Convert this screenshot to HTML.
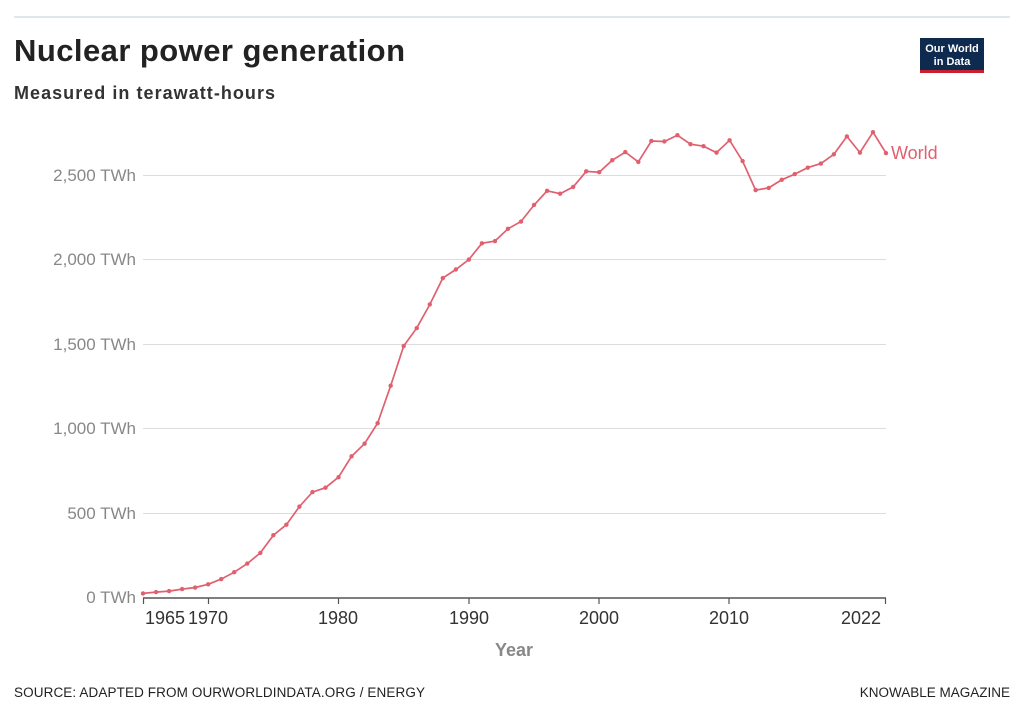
<!DOCTYPE html>
<html><head><meta charset="utf-8"><style>
body{margin:0;background:#fff;font-family:"Liberation Sans",sans-serif;}
</style></head><body>
<svg width="1024" height="714" xmlns="http://www.w3.org/2000/svg" font-family="Liberation Sans, sans-serif">
<rect width="1024" height="714" fill="#fff"/>
<rect x="14" y="16" width="996" height="2" fill="#dde8ea"/>
<text x="14" y="61" font-size="31" font-weight="bold" fill="#222" textLength="391">Nuclear power generation</text>
<text x="14" y="99" font-size="18" font-weight="bold" fill="#333" textLength="261">Measured in terawatt-hours</text>
<rect x="920" y="38" width="64" height="32" fill="#0f2a4f"/>
<rect x="920" y="70" width="64" height="3" fill="#c8202e"/>
<text x="952" y="52" font-size="11" font-weight="bold" fill="#fff" text-anchor="middle">Our World</text>
<text x="952" y="65" font-size="11" font-weight="bold" fill="#fff" text-anchor="middle">in Data</text>
<g stroke="#ddd" stroke-width="1">
<line x1="143" x2="886" y1="175.5" y2="175.5"/>
<line x1="143" x2="886" y1="259.5" y2="259.5"/>
<line x1="143" x2="886" y1="344.5" y2="344.5"/>
<line x1="143" x2="886" y1="428.5" y2="428.5"/>
<line x1="143" x2="886" y1="513.5" y2="513.5"/>
</g>
<g font-size="17" fill="#888" text-anchor="end">
<text x="136" y="181">2,500 TWh</text>
<text x="136" y="265">2,000 TWh</text>
<text x="136" y="350">1,500 TWh</text>
<text x="136" y="434">1,000 TWh</text>
<text x="136" y="519">500 TWh</text>
<text x="136" y="603">0 TWh</text>
</g>
<line x1="143" x2="886" y1="598" y2="598" stroke="#555" stroke-width="1.5"/>
<g stroke="#555" stroke-width="1.2">
<line x1="143.5" x2="143.5" y1="598" y2="604"/>
<line x1="208.5" x2="208.5" y1="598" y2="604"/>
<line x1="338.5" x2="338.5" y1="598" y2="604"/>
<line x1="469" x2="469" y1="598" y2="604"/>
<line x1="599" x2="599" y1="598" y2="604"/>
<line x1="729" x2="729" y1="598" y2="604"/>
<line x1="885.5" x2="885.5" y1="598" y2="604"/>
</g>
<g font-size="18" fill="#333" text-anchor="middle">
<text x="165" y="624">1965</text>
<text x="208" y="624">1970</text>
<text x="338" y="624">1980</text>
<text x="469" y="624">1990</text>
<text x="599" y="624">2000</text>
<text x="729" y="624">2010</text>
<text x="861" y="624">2022</text>
</g>
<text x="514" y="656" font-size="18" font-weight="bold" fill="#888" text-anchor="middle">Year</text>
<text x="14" y="697" font-size="13.5" fill="#222" textLength="411">SOURCE: ADAPTED FROM OURWORLDINDATA.ORG / ENERGY</text>
<text x="1010" y="697" font-size="13.5" fill="#222" text-anchor="end">KNOWABLE MAGAZINE</text>
<g id="s"></g>
<text x="891" y="159" font-size="18" fill="#e0606f">World</text>
</svg>
<script>
var d=[24,32,38,50,59,78,109,150,201,264,369,431,538,624,650,712,836,911,1032,1254,1489,1595,1735,1891,1942,2001,2097,2110,2183,2226,2324,2408,2391,2431,2523,2518,2589,2637,2579,2703,2700,2737,2684,2672,2634,2707,2584,2412,2425,2473,2507,2545,2569,2624,2730,2634,2755,2631];
var pts=d.map(function(v,i){return [143+i*743/57,597.5-v*84.45/500];});
var g=document.getElementById('s'),ns="http://www.w3.org/2000/svg";
var p=document.createElementNS(ns,'polyline');
p.setAttribute('points',pts.map(function(a){return a[0].toFixed(1)+','+a[1].toFixed(1)}).join(' '));
p.setAttribute('fill','none');p.setAttribute('stroke','#e0606f');p.setAttribute('stroke-width','1.7');
g.appendChild(p);
pts.forEach(function(a){var c=document.createElementNS(ns,'circle');c.setAttribute('cx',a[0]);c.setAttribute('cy',a[1]);c.setAttribute('r','2.2');c.setAttribute('fill','#e0606f');g.appendChild(c);});
</script>
</body></html>
